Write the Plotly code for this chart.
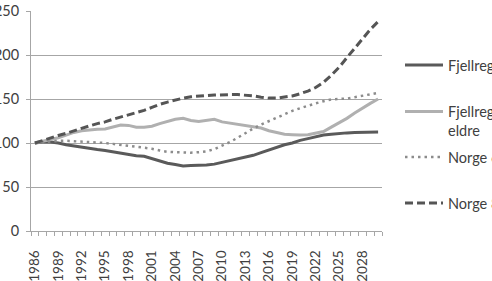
import plotly.graph_objects as go

years = list(range(1986, 2031))

fjell_67_79 = [100, 101, 101, 100, 98, 96.5, 95, 94, 92.5, 91.5, 90, 88, 86.5, 85.5, 85,
               82.5, 79.5, 77, 75.5, 74, 74.5, 74.5, 75, 76, 78, 80, 82, 83.5, 86, 89,
               92, 95, 98, 100, 103, 105, 107, 109, 110, 111, 111.5, 112, 112, 112.5, 112.5]

fjell_80 = [100, 102, 104, 106, 109, 112, 114, 115, 115.5, 116, 118, 120.5, 120, 118, 118,
            119, 122, 124.5, 127, 128, 125.5, 124.5, 126, 127, 124, 122.5, 121.5, 120, 118.5, 117,
            114, 112, 110, 109.5, 109, 109.5, 111, 113, 118, 123, 128, 134, 140, 145, 150]

norge_67_79 = [100, 101, 102, 102.5, 102.5, 102, 102, 101.5, 101, 100, 99, 98, 97, 96, 95,
               93.5, 91.5, 90, 89.5, 89, 89, 89.5, 90.5, 93, 97, 101, 106, 111.5, 116.5, 121,
               125, 129, 133, 136.5, 139.5, 142.5, 145, 147.5, 149.5, 150, 150.5, 152, 153.5, 155, 157]

norge_80 = [100, 103, 106, 108.5, 111, 114, 117, 119.5, 122, 124, 127, 129.5, 132, 134, 137,
            140.5, 144, 146.5, 149, 151, 152.5, 153.5, 154, 154.5, 155, 155, 155, 154.5, 153.5, 152,
            151, 151, 152, 153.5, 156, 159, 163, 169, 177, 186, 197, 208, 219, 229, 238]

names = ["Fjellregionen 67-79 år", "Fjellregionen 80 år og<br>eldre",
         "Norge 67-79 år", "Norge 80 år og eldre"]
x_ticks = list(range(1986, 2029, 3))
y_ticks = [0, 50, 100, 150, 200, 250]

FONT = "Lato"
FS = 14.5
XFS = 13.5
TXT = "#404040"
GRID = "#a6a6a6"

fig = go.Figure()
series = [
    (fjell_67_79, names[0], dict(color="#5a5a5a", width=3), "legend"),
    (fjell_80, names[1], dict(color="#b0b0b0", width=3), "legend2"),
    (norge_67_79, names[2], dict(color="#8c8c8c", width=2.5, dash="2.5px,4px"), "legend3"),
    (norge_80, names[3], dict(color="#555555", width=3, dash="8px,4px"), "legend4"),
]
for vals, nm, ln, lg in series:
    fig.add_trace(go.Scatter(x=years, y=vals, name=nm, mode="lines", line=ln,
                             legend=lg, showlegend=True))

px_w, px_l = 351, 31
def lx(px):
    return (px - px_l) / px_w
def ly(py):
    return (231 - py) / 220

leg_common = dict(xanchor="left", yanchor="middle", bgcolor="rgba(0,0,0,0)",
                  font=dict(family=FONT, size=FS, color=TXT), itemwidth=38,
                  borderwidth=0)

fig.update_layout(
    width=492, height=281,
    margin=dict(l=31, r=110, t=11, b=50, autoexpand=False),
    paper_bgcolor="white", plot_bgcolor="white",
    font=dict(family=FONT, size=FS, color=TXT),
    legend=dict(x=lx(400), y=ly(65), **leg_common),
    legend2=dict(x=lx(400), y=ly(121), valign="top", **leg_common),
    legend3=dict(x=lx(400), y=ly(157), **leg_common),
    legend4=dict(x=lx(400), y=ly(203), **leg_common),
    xaxis=dict(
        range=[1985.5, 2030.5], tickmode="array", tickvals=x_ticks,
        ticktext=[str(v) for v in x_ticks], tickangle=-90, ticks="",
        showgrid=False, showline=True, linecolor=GRID, linewidth=1,
        zeroline=False, automargin=False, ticklabelstandoff=13,
        minor=dict(ticks="outside", ticklen=4, tickcolor=GRID, dtick=1, tick0=1985.5,
                   showgrid=False),
        tickfont=dict(family=FONT, size=XFS, color=TXT),
    ),
    yaxis=dict(
        range=[0, 250], tickmode="array", tickvals=y_ticks, ticks="outside",
        ticklen=4, tickcolor=GRID, showgrid=True, gridcolor=GRID, gridwidth=1,
        showline=True, linecolor=GRID, linewidth=1, zeroline=False,
        automargin=False, ticklabelstandoff=4,
        tickfont=dict(family=FONT, size=FS, color=TXT),
    ),
)

fig.write_html("out.html")
